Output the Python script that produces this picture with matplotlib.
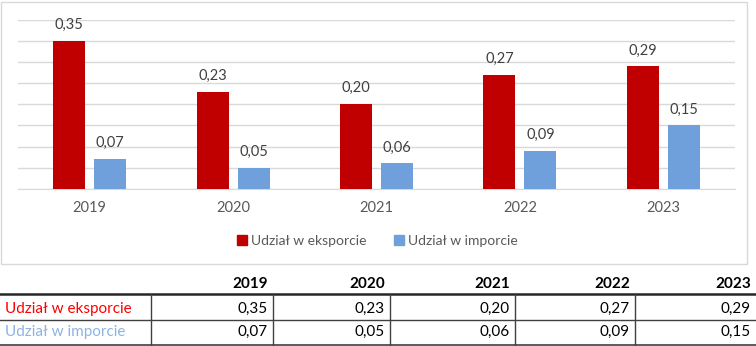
import matplotlib
matplotlib.use('Agg')
import matplotlib.pyplot as plt
from matplotlib.patches import Rectangle, Patch
import numpy as np

years = ['2019', '2020', '2021', '2022', '2023']
eksport = [0.35, 0.23, 0.20, 0.27, 0.29]
import_ = [0.07, 0.05, 0.06, 0.09, 0.15]
series_names = ['Udział w eksporcie', 'Udział w imporcie']

RED = '#C00000'
BLUE = '#6FA0DB'
GRID = '#D9D9D9'
TXT = '#595959'

plt.rcParams['font.family'] = ['Lato', 'DejaVu Sans']

W, H = 756, 346
fig = plt.figure(figsize=(W / 100, H / 100), dpi=100)

# overlay in pixel coords for the chart frame and the table
bg = fig.add_axes([0, 0, 1, 1])
bg.set_xlim(0, W)
bg.set_ylim(H, 0)
bg.axis('off')
bg.add_patch(Rectangle((1, 2), 746, 262, fill=False, edgecolor=GRID, lw=1))

# bar chart
ax = fig.add_axes([18 / W, 1 - 188.7 / H, 717 / W, 168.7 / H])
x = np.arange(len(years))
bw = 0.223
off = 0.143
b1 = ax.bar(x - off, eksport, bw, color=RED, zorder=3)
b2 = ax.bar(x + off, import_, bw, color=BLUE, zorder=3)
for bars, vals in [(b1, eksport), (b2, import_)]:
    for b, v in zip(bars, vals):
        ax.annotate(f"{v:.2f}".replace('.', ','), (b.get_x() + b.get_width() / 2, v),
                    xytext=(0, 11.5), textcoords='offset points', ha='center', va='center',
                    fontsize=10.5, color='#404040')
ax.set_xlim(-0.5, len(years) - 0.5)
ax.set_ylim(0, 0.40)
ax.set_yticks(np.arange(0, 0.401, 0.05))
ax.yaxis.grid(True, color=GRID, lw=1)
ax.set_axisbelow(True)
ax.tick_params(axis='y', left=False, labelleft=False)
ax.set_xticks(x)
ax.set_xticklabels(years)
ax.tick_params(axis='x', length=0, pad=9, labelsize=10.5, labelcolor=TXT)
for s in ['top', 'right', 'left']:
    ax.spines[s].set_visible(False)
ax.spines['bottom'].set_color(GRID)
ax.patch.set_visible(False)

handles = [Patch(color=RED), Patch(color=BLUE)]
fig.legend(handles, series_names, loc='center', bbox_to_anchor=(377.5 / W, 1 - 241 / H),
           ncol=2, frameon=False, fontsize=10, labelcolor=TXT,
           handlelength=0.7, handleheight=0.7, handletextpad=0.3, columnspacing=2.0)

# table
col_sep = [150.7, 272.7, 390, 515, 635, 756]
header_y, row_y = 284, [309, 332]
bg.plot([0, W], [294.3, 294.3], color='#262626', lw=1.8)
bg.plot([0, W], [320, 320], color='#404040', lw=1)
bg.plot([0, W], [345, 345], color='#404040', lw=1.2)
for xs in col_sep[:-1]:
    bg.plot([xs, xs], [294.3, 345], color='#404040', lw=1)
for i, yr in enumerate(years):
    bg.text(col_sep[i + 1] - 5, header_y, yr, ha='right', va='center',
            fontsize=11, fontweight='bold', color='black')
    for r, vals in enumerate([eksport, import_]):
        bg.text(col_sep[i + 1] - 5, row_y[r], f"{vals[i]:.2f}".replace('.', ','),
                ha='right', va='center', fontsize=11, color='black')
bg.text(5, row_y[0], series_names[0], ha='left', va='center', fontsize=11, color='#FF0000')
bg.text(5, row_y[1], series_names[1], ha='left', va='center', fontsize=11, color='#8DB4E2')

fig.savefig('out.png', dpi=100)
plt.close(fig)
